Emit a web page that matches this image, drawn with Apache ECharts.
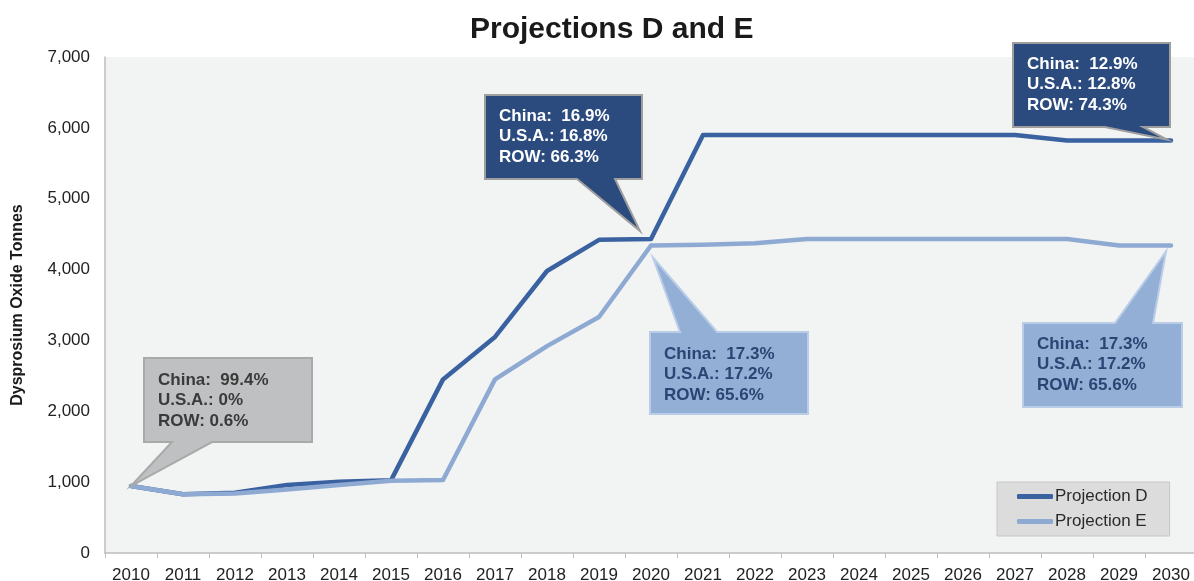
<!DOCTYPE html>
<html>
<head>
<meta charset="utf-8">
<script src="https://cdn.jsdelivr.net/npm/echarts@6/dist/echarts.min.js"></script>
<style>
  html, body { margin: 0; padding: 0; background: #fff; }
  #chart { width: 1194px; height: 581px; }
</style>
</head>
<body>
<div id="chart"></div>
<script>
// data
const years = ['2010','2011','2012','2013','2014','2015','2016','2017','2018','2019','2020',
  '2021','2022','2023','2024','2025','2026','2027','2028','2029','2030'];
const projectionD = [945, 830, 850, 960, 1005, 1025, 2450, 3050, 3980, 4420, 4430,
  5900, 5900, 5900, 5900, 5900, 5900, 5900, 5820, 5820, 5820];
const projectionE = [945, 830, 840, 895, 960, 1020, 1030, 2450, 2920, 3330, 4340,
  4350, 4370, 4430, 4430, 4430, 4430, 4430, 4430, 4340, 4340];
const yTicks = [0, 1000, 2000, 3000, 4000, 5000, 6000, 7000];

// callout texts
const calloutGrey = ['China:  99.4%', 'U.S.A.: 0%', 'ROW: 0.6%'];
const calloutD2020 = ['China:  16.9%', 'U.S.A.: 16.8%', 'ROW: 66.3%'];
const calloutE2020 = ['China:  17.3%', 'U.S.A.: 17.2%', 'ROW: 65.6%'];
const calloutD2030 = ['China:  12.9%', 'U.S.A.: 12.8%', 'ROW: 74.3%'];
const calloutE2030 = ['China:  17.3%', 'U.S.A.: 17.2%', 'ROW: 65.6%'];

const FONT = 'Liberation Sans, Arial, sans-serif';
const DARK = '#3a62a0';
const LIGHT = '#8eaad3';

let chart = echarts.init(document.getElementById('chart'));

chart.setOption({
  backgroundColor: '#ffffff',
  animation: false,
  title: {
    text: 'Projections D and E',
    left: 465,
    top: 10,
    textStyle: { fontFamily: FONT, fontSize: 30, fontWeight: 'bold', color: '#1a1a1a' }
  },
  legend: {
    data: ['Projection D', 'Projection E'],
    orient: 'vertical',
    left: 997,
    top: 482,
    padding: [6, 22, 6, 20],
    itemGap: 8,
    itemWidth: 36,
    itemHeight: 5,
    icon: 'roundRect',
    backgroundColor: '#dcdcdc',
    borderColor: '#c6c6c6',
    borderWidth: 1,
    textStyle: { fontFamily: FONT, fontSize: 17, color: '#2a2a2a', padding: [0, 0, 0, -3] }
  },
  grid: {
    left: 105,
    top: 57,
    width: 1092,
    height: 496,
    outerBoundsMode: 'none',
    containLabel: false,
    show: true,
    backgroundColor: '#f2f3f3',
    borderWidth: 0
  },
  xAxis: {
    type: 'category',
    data: years,
    boundaryGap: true,
    axisLine: { lineStyle: { color: '#bdbdbd', width: 1.5 } },
    axisTick: { show: true, length: 5, lineStyle: { color: '#bdbdbd' } },
    axisLabel: { fontFamily: FONT, fontSize: 17, color: '#222', margin: 14 }
  },
  yAxis: {
    type: 'value',
    min: yTicks[0],
    max: yTicks[yTicks.length - 1],
    interval: 1000,
    name: 'Dysprosium Oxide Tonnes',
    nameLocation: 'middle',
    nameRotate: 90,
    nameGap: 79,
    nameTextStyle: { fontFamily: FONT, fontSize: 16, fontWeight: 'bold', color: '#1a1a1a' },
    axisLine: { show: true, lineStyle: { color: '#bdbdbd', width: 1.5 } },
    axisTick: { show: false },
    splitLine: { show: false },
    axisLabel: {
      fontFamily: FONT, fontSize: 17, color: '#222', margin: 15,
      formatter: v => v.toLocaleString('en-US')
    }
  },
  series: [
    {
      name: 'Projection D',
      type: 'line',
      data: projectionD,
      symbol: 'none',
      color: DARK,
      lineStyle: { width: 4.5, color: DARK, cap: 'round', join: 'round' }
    },
    {
      name: 'Projection E',
      type: 'line',
      data: projectionE,
      symbol: 'none',
      color: LIGHT,
      lineStyle: { width: 4.5, color: LIGHT, cap: 'round', join: 'round' }
    }
  ]
});

// callout boxes: box [x, y, w, h], tail base x range, tail side, offset of the tip from the data point
const callouts = [
  { lines: calloutGrey, series: 0, idx: 0, box: [144, 358, 168, 84], base: [172, 212], side: 'bottom', off: [0, 0],
    fill: '#bfc0c2', stroke: '#a9a9a9', text: '#3a3a3a', textTop: 370 },
  { lines: calloutD2020, series: 0, idx: 10, box: [485, 95, 157, 84], base: [577, 615], side: 'bottom', off: [-11, -8],
    fill: '#2b4a7e', stroke: '#9e9e9e', text: '#ffffff', textTop: 106 },
  { lines: calloutE2020, series: 1, idx: 10, box: [650, 332, 158, 82], base: [680, 717], side: 'top', off: [2, 12],
    fill: '#94afd5', stroke: '#b9cce8', text: '#2a4473', textTop: 344 },
  { lines: calloutE2030, series: 1, idx: 20, box: [1023, 323, 159, 84], base: [1115, 1153], side: 'top', off: [-5, 6],
    fill: '#94afd5', stroke: '#b9cce8', text: '#2a4473', textTop: 334 },
  { lines: calloutD2030, series: 0, idx: 20, box: [1013, 43, 157, 84], base: [1105, 1143], side: 'bottom', off: [-4, -1],
    fill: '#2b4a7e', stroke: '#9e9e9e', text: '#ffffff', textTop: 54 }
];

const seriesData = [projectionD, projectionE];
const graphics = [];
callouts.forEach(c => {
  const pt = chart.convertToPixel({ seriesIndex: c.series }, [c.idx, seriesData[c.series][c.idx]]);
  const tip = [pt[0] + c.off[0], pt[1] + c.off[1]];
  const [x, y, w, h] = c.box;
  let points;
  if (c.side === 'bottom') {
    points = [[x, y], [x + w, y], [x + w, y + h], [c.base[1], y + h], tip, [c.base[0], y + h], [x, y + h]];
  } else {
    points = [[x, y], [c.base[0], y], tip, [c.base[1], y], [x + w, y], [x + w, y + h], [x, y + h]];
  }
  graphics.push({
    type: 'polygon',
    z: 100,
    shape: { points: points },
    style: { fill: c.fill, stroke: c.stroke, lineWidth: 2, lineJoin: 'miter' }
  });
  graphics.push({
    type: 'text',
    z: 101,
    x: x + 14,
    y: c.textTop,
    style: {
      text: c.lines.join('\n'),
      font: 'bold 17px ' + FONT,
      lineHeight: 20.5,
      fill: c.text,
      verticalAlign: 'top'
    }
  });
});
chart.setOption({ graphic: graphics });
</script>
</body>
</html>
